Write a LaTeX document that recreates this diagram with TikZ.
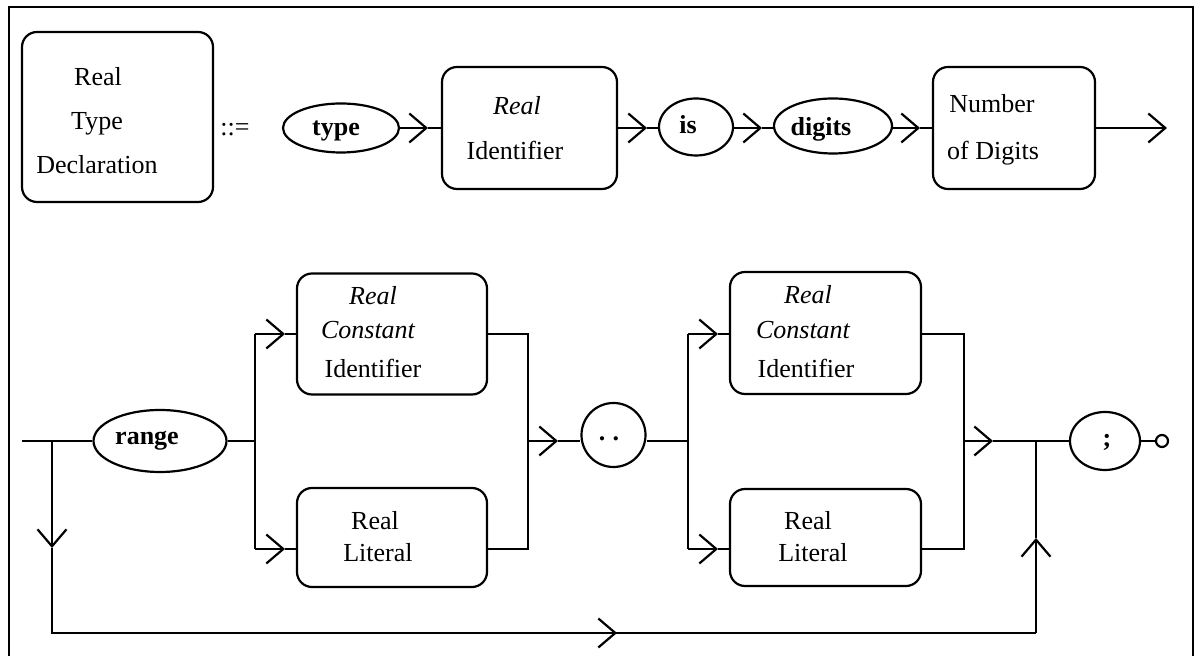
\documentclass[tikz,border=0pt]{standalone}
\usepackage{fontspec}
\setmainfont{Liberation Serif}
\usetikzlibrary{arrows.meta,shapes.geometric}
\begin{document}
\begin{tikzpicture}[x=0.5pt,y=-0.5pt,line width=1.1pt,
  font=\fontsize{13}{15}\selectfont,
  box/.style={draw,rounded corners=7.5pt,inner sep=0pt},
  term/.style={draw,ellipse,inner sep=0pt},
  txt/.style={inner sep=0pt,anchor=base},
  arr/.style={-{Straight Barb[length=8.5pt,width=14.5pt]}}]
\useasboundingbox (0,0) rectangle (1195,656);
\clip (0,0) rectangle (1195,656);
% frame
\draw (9,670) -- (9,7) -- (1193,7) -- (1193,670);

% ---------- top row ----------
\node[box,minimum width=95.5pt,minimum height=85pt] (decl) at (117.5,117) {};
\node[txt] (declA) at (98,86) {Real};
\node[txt] (declB) at (97,130) {Type};
\node[txt] (declC) at (97,174) {Declaration};
\node[txt] (def) at (235,136) {::=};

\node[term,minimum width=58pt,minimum height=24.5pt] (type) at (341,128) {};
\node[txt] (typeT) at (336,136) {\textbf{type}};

\node[box,minimum width=87.5pt,minimum height=61pt] (rid) at (529.5,128) {};
\node[txt] (ridA) at (517,115) {\itshape Real};
\node[txt] (ridB) at (515,160) {Identifier};

\node[term,minimum width=37pt,minimum height=28.5pt] (is) at (696,127) {};
\node[txt] (isT) at (688,134) {\textbf{is}};

\node[term,minimum width=59pt,minimum height=27.5pt] (digits) at (833,126) {};
\node[txt] (digitsT) at (821,136) {\textbf{digits}};

\node[box,minimum width=81pt,minimum height=61pt] (nod) at (1014,128) {};
\node[txt] (nodA) at (992,113) {Number};
\node[txt] (nodB) at (993,160) {of Digits};

\coordinate (t1) at (428,128);
\coordinate (t2) at (647,128);
\coordinate (t3) at (762,128);
\coordinate (t4) at (920,128);
\coordinate (t5) at (1167,128);
\draw[arr] (type.east |- t1) -- (t1);
\draw (t1) -- (rid.west);
\draw[arr] (rid.east) -- (t2);
\draw (t2) -- (is.west |- t2);
\draw[arr] (is.east |- t3) -- (t3);
\draw (t3) -- (digits.west |- t3);
\draw[arr] (digits.east |- t4) -- (t4);
\draw (t4) -- (nod.west);
\draw[arr] (nod.east) -- (t5);

% ---------- bottom part ----------
\coordinate (start) at (22,441);
\coordinate (j1) at (52,441);
\coordinate (down) at (52,548);
\coordinate (b1) at (52,633);
\coordinate (bm) at (617,633);
\coordinate (b2) at (1036,633);
\coordinate (up) at (1036,538);
\coordinate (j2) at (1036,441);

\node[term,minimum width=66.5pt,minimum height=31pt] (range) at (160,441) {};
\node[txt] (rangeT) at (147,445) {\textbf{range}};

\node[box,minimum width=95pt,minimum height=60.5pt] (c1) at (392,334) {};
\node[txt] (c1A) at (373,305) {\itshape Real};
\node[txt] (c1B) at (368,339) {\itshape Constant};
\node[txt] (c1C) at (373,378) {Identifier};

\node[box,minimum width=95pt,minimum height=49.5pt] (l1) at (392,537.5) {};
\node[txt] (l1A) at (375,530) {Real};
\node[txt] (l1B) at (378,562) {Literal};

\node[term,circle,minimum size=32pt] (dots) at (613.5,435) {};
\node[txt] (dotsT) at (609,441) {\textbf{.\hspace{3.6pt}.}};

\node[box,minimum width=95.5pt,minimum height=61pt] (c2) at (825.5,333) {};
\node[txt] (c2A) at (808,304) {\itshape Real};
\node[txt] (c2B) at (803,339) {\itshape Constant};
\node[txt] (c2C) at (806,378) {Identifier};

\node[box,minimum width=95.5pt,minimum height=48.5pt] (l2) at (825.5,537.5) {};
\node[txt] (l2A) at (808,530) {Real};
\node[txt] (l2B) at (813,562) {Literal};

\node[term,minimum width=35pt,minimum height=29pt] (semi) at (1105,441) {};
\node[txt] (semiT) at (1107,447) {\textbf{;}};
\node[draw,circle,inner sep=0pt,minimum size=6pt] (endc) at (1162,441) {};

% split points
\coordinate (s1t) at (255,334);
\coordinate (s1m) at (255,441);
\coordinate (s1b) at (255,549);
\coordinate (m1t) at (528,334);
\coordinate (m1m) at (528,441);
\coordinate (m1b) at (528,549);
\coordinate (s2t) at (688,334);
\coordinate (s2m) at (688,441);
\coordinate (s2b) at (688,549);
\coordinate (m2t) at (964,334);
\coordinate (m2m) at (964,441);
\coordinate (m2b) at (964,549);
\coordinate (a1) at (285,334);
\coordinate (a2) at (285,549);
\coordinate (a3) at (558,441);
\coordinate (a4) at (718,334);
\coordinate (a5) at (718,549);
\coordinate (a6) at (993,441);

\draw (start) -- (range.west);
\draw[arr] (j1) -- (down);
\draw (down) -- (b1) -- (bm);
\draw[arr] (b1) -- (bm);
\draw (bm) -- (b2);
\draw[arr] (b2) -- (up);
\draw (up) -- (j2);

\draw (range.east) -- (s1m);
\draw (s1t) -- (s1b);
\draw[arr] (s1t) -- (a1);
\draw (a1) -- (c1.west);
\draw[arr] (s1b) -- (a2);
\draw (a2) -- (l1.west |- a2);
\draw (c1.east) -- (m1t) -- (m1b) -- (l1.east |- m1b);
\draw[arr] (m1m) -- (a3);
\draw (a3) -- (dots.west |- a3);
\draw (dots.east |- s2m) -- (s2m);
\draw (s2t) -- (s2b);
\draw[arr] (s2t) -- (a4);
\draw (a4) -- (c2.west |- a4);
\draw[arr] (s2b) -- (a5);
\draw (a5) -- (l2.west |- a5);
\draw (c2.east |- m2t) -- (m2t) -- (m2b) -- (l2.east |- m2b);
\draw[arr] (m2m) -- (a6);
\draw (a6) -- (j2) -- (semi.west);
\draw (semi.east) -- (endc.west);
\end{tikzpicture}
\end{document}
